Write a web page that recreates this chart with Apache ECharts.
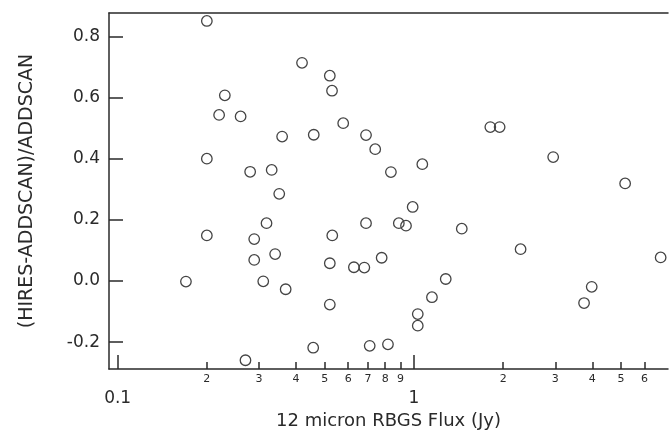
<!DOCTYPE html>
<html>
<head>
<meta charset="utf-8">
<script src="https://cdn.jsdelivr.net/npm/echarts@6/dist/echarts.min.js"></script>
<style>
  html, body { margin: 0; padding: 0; background: #fff; }
  #chart { width: 669px; height: 431px; }
</style>
</head>
<body>
<div id="chart"></div>
<script>
// 12 micron flux (Jy)
var flux = [
  0.2, 0.419, 0.52, 0.529, 0.23, 0.22, 0.26, 0.577, 0.359, 0.459,
  0.2, 0.28, 0.331, 0.351, 0.689, 0.74, 0.836, 1.067, 1.81, 1.946,
  2.95, 5.16, 0.99, 0.318, 0.2, 0.289, 0.34, 0.289, 0.53, 0.52,
  0.17, 0.31, 0.369, 0.52, 0.457, 0.27, 0.689, 0.889, 0.94, 1.45,
  2.29, 6.8, 0.778, 0.627, 0.68, 1.28, 3.98, 3.75, 1.15, 1.03,
  1.03, 0.709, 0.817
];
// (HIRES-ADDSCAN)/ADDSCAN
var ratio = [
  0.85, 0.713, 0.671, 0.622, 0.607, 0.543, 0.538, 0.516, 0.472, 0.478,
  0.4, 0.357, 0.363, 0.285, 0.477, 0.431, 0.356, 0.382, 0.503, 0.503,
  0.405, 0.319, 0.242, 0.189, 0.149, 0.137, 0.088, 0.069, 0.149, 0.058,
  -0.002, -0.001, -0.027, -0.077, -0.218, -0.259, 0.189, 0.189, 0.181, 0.171,
  0.104, 0.077, 0.076, 0.045, 0.044, 0.0065, -0.019, -0.072, -0.053, -0.108,
  -0.146, -0.212, -0.207
];
var majorTicks = [0.1, 1];
var minorTicks = [0.2, 0.3, 0.4, 0.5, 0.6, 0.7, 0.8, 0.9, 2, 3, 4, 5, 6];
var yTicks = [-0.2, 0, 0.2, 0.4, 0.6, 0.8];

var xMin = 0.0935, xMax = 7.2;
var ink = '#2a2a2a';
var font = 'DejaVu Sans';

function minorLabel(v) {
  return v < 1 ? String(Math.round(v * 10)) : String(Math.round(v));
}

var points = flux.map(function (f, i) { return [f, ratio[i]]; });

var chart = echarts.init(document.getElementById('chart'));
chart.setOption({
  animation: false,
  grid: { left: 109, right: 1, top: 13, bottom: 62, outerBoundsMode: 'none' },
  xAxis: [
    {
      type: 'log', min: xMin, max: xMax, position: 'bottom',
      name: '12 micron RBGS Flux (Jy)', nameLocation: 'middle', nameGap: 36,
      nameTextStyle: { fontFamily: font, fontSize: 18, color: ink },
      axisLine: { onZero: false, lineStyle: { color: ink, width: 1.5 } },
      axisTick: { inside: true, length: 14, customValues: majorTicks, lineStyle: { color: ink, width: 1.5 } },
      axisLabel: { customValues: majorTicks, margin: 21, fontFamily: font, fontSize: 17, color: ink,
        formatter: function (v) { return v < 1 ? '0.1' : '1'; } },
      splitLine: { show: false }
    },
    {
      type: 'log', min: xMin, max: xMax, position: 'bottom',
      axisLine: { show: false, onZero: false },
      axisTick: { inside: true, length: 7, customValues: minorTicks, lineStyle: { color: ink, width: 1.5 } },
      axisLabel: { customValues: minorTicks, margin: 5, fontFamily: font, fontSize: 11, color: ink,
        formatter: minorLabel },
      splitLine: { show: false }
    },
    {
      type: 'log', min: xMin, max: xMax, position: 'top',
      axisLine: { onZero: false, lineStyle: { color: ink, width: 1.5 } },
      axisTick: { show: false }, axisLabel: { show: false }, splitLine: { show: false }
    }
  ],
  yAxis: {
    type: 'value', min: -0.2876, max: 0.876,
    name: '(HIRES-ADDSCAN)/ADDSCAN', nameLocation: 'middle', nameGap: 72,
    nameTextStyle: { fontFamily: font, fontSize: 19, color: ink },
    axisLine: { onZero: false, lineStyle: { color: ink, width: 1.5 } },
    axisTick: { inside: true, length: 14, customValues: yTicks, lineStyle: { color: ink, width: 1.5 } },
    axisLabel: { customValues: yTicks, margin: 9, fontFamily: font, fontSize: 17, color: ink,
      formatter: function (v) { return v.toFixed(1); } },
    splitLine: { show: false }
  },
  series: [{
    type: 'scatter',
    xAxisIndex: 0,
    data: points,
    symbol: 'circle',
    symbolSize: 10.5,
    itemStyle: { color: 'rgba(0,0,0,0)', borderColor: '#444', borderWidth: 1.3, opacity: 1 }
  }]
});
</script>
</body>
</html>
